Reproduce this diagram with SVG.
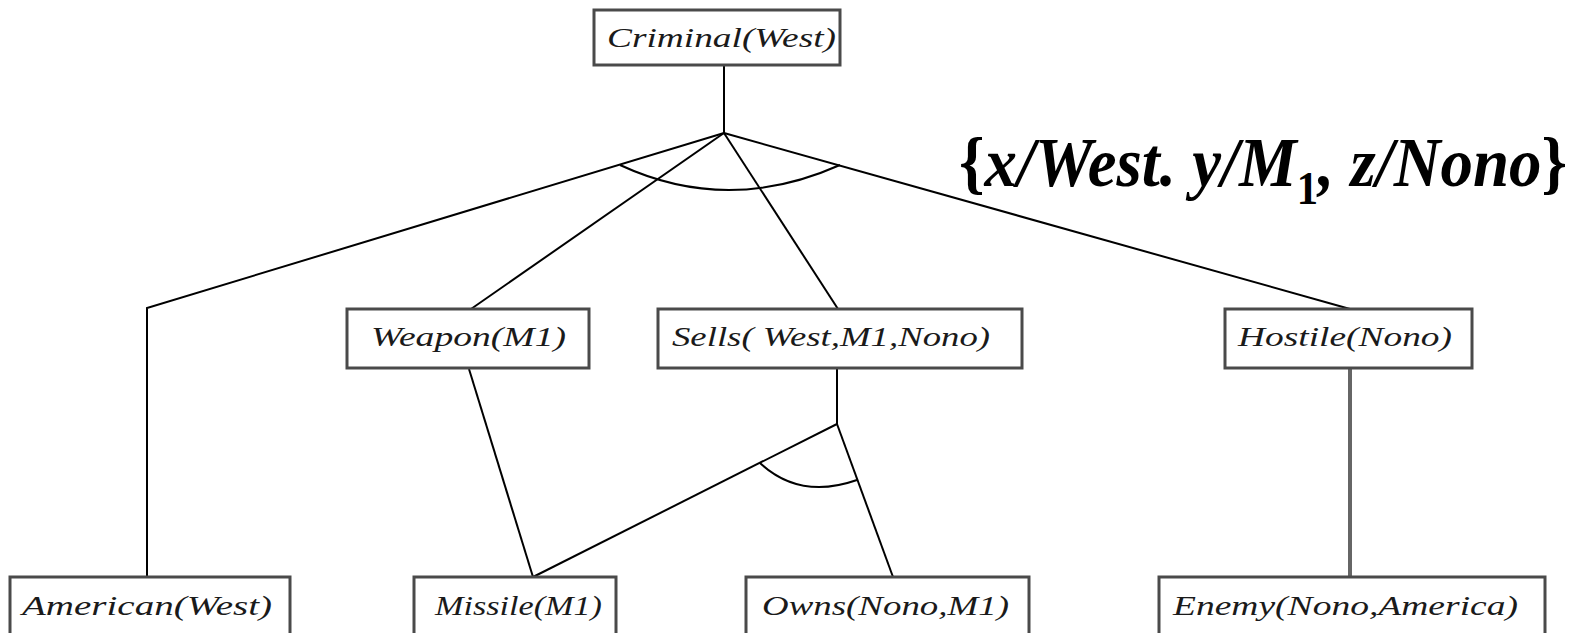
<svg xmlns="http://www.w3.org/2000/svg" width="1578" height="633" viewBox="0 0 1578 633">
<style>
.box{fill:#fff;stroke:#4a4a4a;stroke-width:3}
.lbl{font-family:"Liberation Serif",serif;font-style:italic;font-size:27px;fill:#1a1a1a}
.ln{stroke:#000;stroke-width:2;fill:none}
.big{font-family:"Liberation Serif",serif;font-weight:bold;font-size:70px;fill:#000}
</style>
<rect width="1578" height="633" fill="#fff"/>
<g id="connectors">
<line class="ln" x1="724" y1="65" x2="724" y2="133" stroke="#555" stroke-width="3"/>
<polyline class="ln" points="724,133 147,308 147,577"/>
<line class="ln" x1="724" y1="133" x2="471" y2="309"/>
<line class="ln" x1="724" y1="133" x2="838" y2="309"/>
<line class="ln" x1="724" y1="133" x2="1350" y2="309"/>
<path class="ln" d="M620 165 Q728 215 840 165"/>
<line class="ln" x1="469" y1="369" x2="533" y2="577"/>
<line class="ln" x1="837" y1="369" x2="837" y2="424"/>
<line class="ln" x1="837" y1="424" x2="533" y2="577"/>
<line class="ln" x1="837" y1="424" x2="893" y2="577"/>
<path class="ln" d="M760 463 Q800 500 857 480"/>
<line x1="1350" y1="369" x2="1350" y2="577" stroke="#666" stroke-width="4"/>
</g>
<g id="criminal">
<rect class="box" x="594" y="10" width="246" height="55" stroke="#222"/>
<text class="lbl" x="607" y="47" textLength="229" lengthAdjust="spacingAndGlyphs">Criminal(West)</text>
</g>
<g id="weapon">
<rect class="box" x="347" y="309" width="242" height="59"/>
<text class="lbl" x="371" y="346" textLength="195" lengthAdjust="spacingAndGlyphs">Weapon(M1)</text>
</g>
<g id="sells">
<rect class="box" x="658" y="309" width="364" height="59"/>
<text class="lbl" x="672" y="346" textLength="318" lengthAdjust="spacingAndGlyphs">Sells( West,M1,Nono)</text>
</g>
<g id="hostile">
<rect class="box" x="1225" y="309" width="247" height="59"/>
<text class="lbl" x="1238" y="346" textLength="214" lengthAdjust="spacingAndGlyphs">Hostile(Nono)</text>
</g>
<g id="american">
<rect class="box" x="10" y="577" width="280" height="70"/>
<text class="lbl" x="22" y="615" textLength="250" lengthAdjust="spacingAndGlyphs">American(West)</text>
</g>
<g id="missile">
<rect class="box" x="414" y="577" width="202" height="70"/>
<text class="lbl" x="435" y="615" textLength="167" lengthAdjust="spacingAndGlyphs">Missile(M1)</text>
</g>
<g id="owns">
<rect class="box" x="746" y="577" width="283" height="70"/>
<text class="lbl" x="762" y="615" textLength="247" lengthAdjust="spacingAndGlyphs">Owns(Nono,M1)</text>
</g>
<g id="enemy">
<rect class="box" x="1159" y="577" width="386" height="70"/>
<text class="lbl" x="1173" y="615" textLength="345" lengthAdjust="spacingAndGlyphs">Enemy(Nono,America)</text>
</g>
<g id="substitution">
<text class="big" x="959" y="186" textLength="608" lengthAdjust="spacingAndGlyphs">{<tspan font-style="italic">x/West. y/M</tspan><tspan font-size="46" dy="18">1</tspan><tspan font-style="italic" dy="-18">, z/Nono</tspan>}</text>
</g>
</svg>
